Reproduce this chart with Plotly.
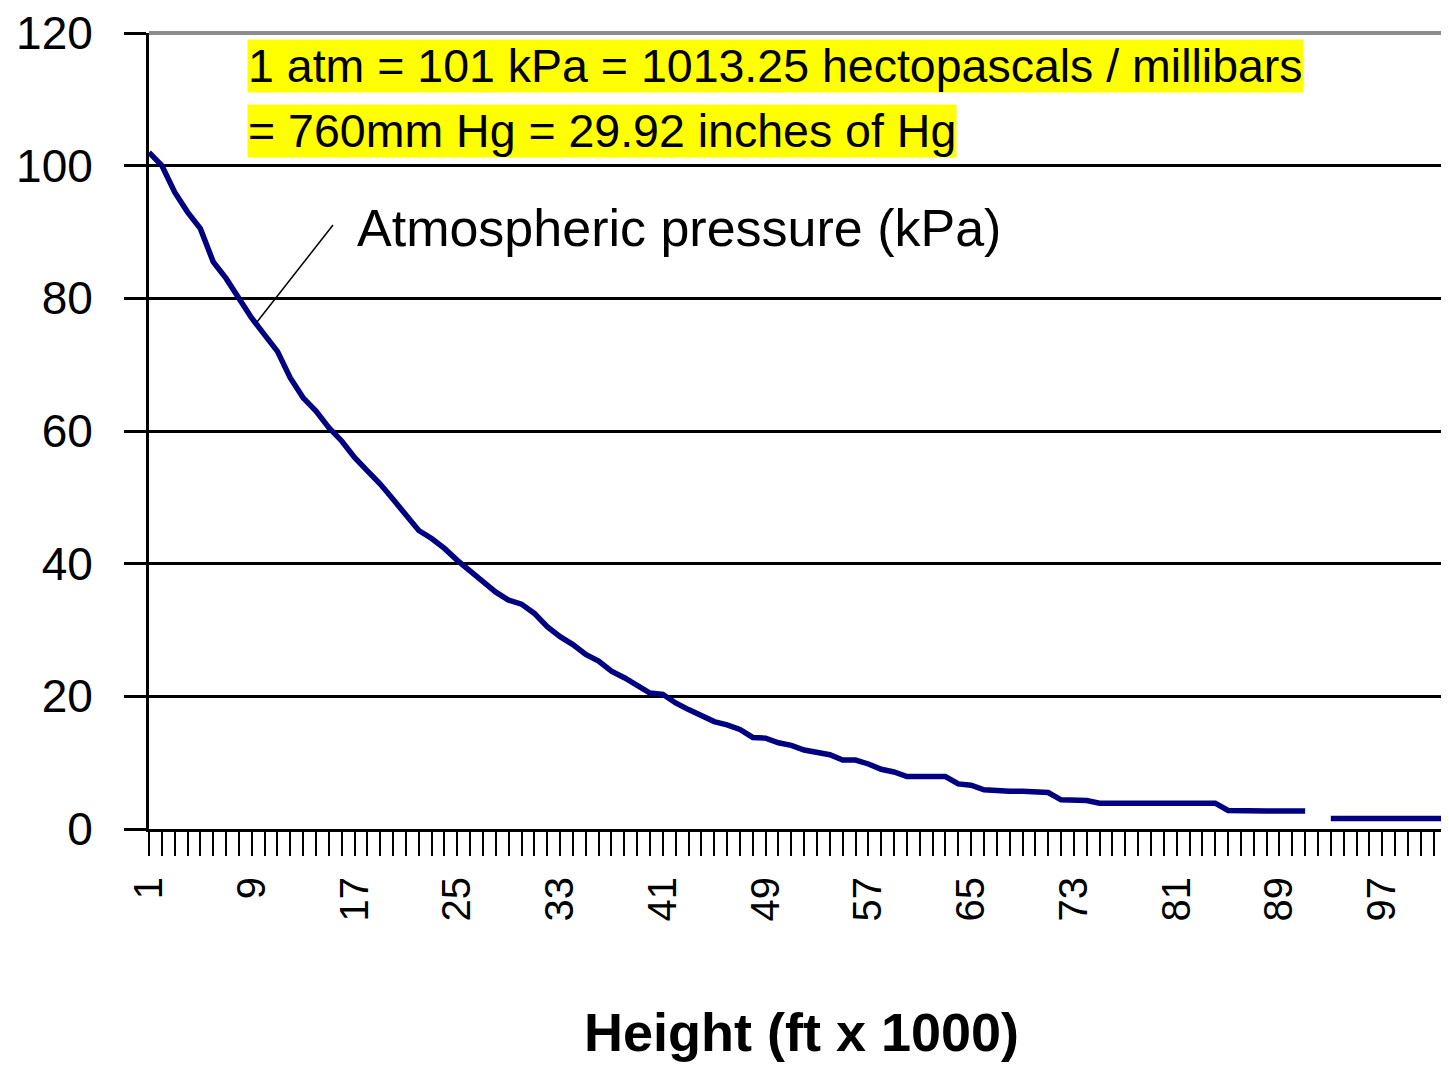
import plotly.graph_objects as go

# ---- data ----
height_kft = list(range(1, 103))
pressure_kpa = [
    102, 100, 96, 93, 90.5, 85.5, 83, 80, 77, 74.5,
    72, 68, 65, 63, 60.5, 58.5, 56, 54, 52, 49.7,
    47.5, 45, 43.8, 42.3, 40.5, 39, 37.3, 35.7, 34.5, 33.9,
    32.5, 30.5, 29, 27.8, 26.3, 25.3, 23.8, 22.8, 21.7, 20.5,
    20.3, 19, 18, 17, 16.2, 15.7, 15, 13.8, 13.7, 13,
    12.6, 11.9, 11.5, 11.2, 10.4, 10.4, 9.8, 9.0, 8.6, 7.9,
    7.9, 7.9, 7.9, 6.8, 6.6, 5.9, 5.7, 5.7, 5.7, 5.7,
    5.5, 4.4, 4.3, 4.3, 3.9, 3.9, 3.9, 3.9, 3.9, 3.9,
    3.9, 3.9, 3.9, 3.9, 2.8, 2.7, 2.7, 2.7, 2.7, 2.7,
    2.7, None, 1.6, 1.6, 1.6, 1.6, 1.6, 1.6, 1.6, 1.6,
    1.6, 1.6,
]
y_ticks = [0, 20, 40, 60, 80, 100, 120]
x_ticks = list(range(1, 98, 8))

note_line1 = "1 atm = 101 kPa = 1013.25 hectopascals / millibars"
note_line2 = "= 760mm Hg = 29.92 inches of Hg"
series_label = "Atmospheric pressure (kPa)"
x_title = "Height (ft x 1000)"

# page body has an 8px margin: lay the figure out so that it lands on the reference pixels
OFF = 8
W, H = 1449 - OFF, 1066 - OFF
PL, PR, PT, PB = 149, 1449, 33, 829          # plot-area edges in reference pixels
L, T = PL - OFF, PT - OFF
R, B = (1449 - OFF) - (PR - OFF), H - (PB - OFF)
X0, X1 = 1, 102.2
Y0, Y1 = 0, 120

def xd(px):
    return X0 + (px - PL) * (X1 - X0) / (PR - PL)

def yd(py):
    return Y0 + (PB - py) * (Y1 - Y0) / (PB - PT)

def yp(py):
    return (PB - py) / (PB - PT)

SANS = "Liberation Sans, Arial, sans-serif"

fig = go.Figure()
fig.add_trace(go.Scatter(
    x=height_kft, y=pressure_kpa, mode="lines",
    line=dict(color="#000080", width=5.5),
    connectgaps=False, showlegend=False, hoverinfo="skip",
))

fig.update_layout(
    width=W, height=H,
    margin=dict(l=L, r=R, t=T, b=B, autoexpand=False),
    paper_bgcolor="white", plot_bgcolor="white",
    showlegend=False,
    xaxis=dict(
        range=[X0, X1], tickmode="array", tickvals=x_ticks,
        ticktext=[str(v) for v in x_ticks], automargin=False,
        tickangle=-90, ticks="outside", ticklen=24, tickwidth=2, tickcolor="black",
        ticklabelstandoff=5, ticklabeloverflow="allow",
        tickfont=dict(family=SANS, size=40, color="black"),
        showgrid=False, zeroline=False,
        showline=True, linecolor="black", linewidth=3,
        minor=dict(tickmode="linear", tick0=1, dtick=1, ticks="outside",
                   ticklen=24, tickwidth=2, tickcolor="black", showgrid=False),
    ),
    yaxis=dict(
        range=[Y0, Y1], tickmode="array", tickvals=y_ticks,
        ticktext=[str(v) for v in y_ticks], automargin=False,
        ticks="outside", ticklen=22, tickwidth=3, tickcolor="black",
        ticklabelstandoff=22, ticklabeloverflow="allow",
        tickfont=dict(family=SANS, size=46, color="black"),
        showgrid=True, gridcolor="black", gridwidth=2.5,
        zeroline=False, showline=True, linecolor="black", linewidth=3,
    ),
)

# top border of plot area (gray)
fig.add_shape(type="line", xref="paper", yref="paper", x0=0, x1=1, y0=1, y1=1,
              line=dict(color="#8c8c8c", width=4))

# yellow notes
fig.add_annotation(x=xd(247), y=yd(66), xref="x", yref="y", xanchor="left", yanchor="middle",
                   text=note_line1, showarrow=False, bgcolor="#ffff00", borderpad=0,
                   font=dict(family=SANS, size=46.5, color="black"))
fig.add_annotation(x=xd(247), y=yd(131), xref="x", yref="y", xanchor="left", yanchor="middle",
                   text=note_line2, showarrow=False, bgcolor="#ffff00", borderpad=0,
                   font=dict(family=SANS, size=46.5, color="black"))

# series label with leader line
fig.add_annotation(x=xd(355), y=yd(228), xref="x", yref="y", xanchor="left", yanchor="middle",
                   text=series_label, showarrow=False,
                   font=dict(family=SANS, size=52, color="black"))
fig.add_shape(type="line", xref="x", yref="y", x0=xd(333), y0=yd(225), x1=xd(257), y1=yd(322),
              line=dict(color="black", width=1.5))

# axis title
fig.add_annotation(x=xd(801), y=yp(1032), xref="x", yref="paper",
                   xanchor="center", yanchor="middle", text="<b>" + x_title + "</b>",
                   showarrow=False, font=dict(family=SANS, size=54, color="black"))

fig.write_html("out.html")
